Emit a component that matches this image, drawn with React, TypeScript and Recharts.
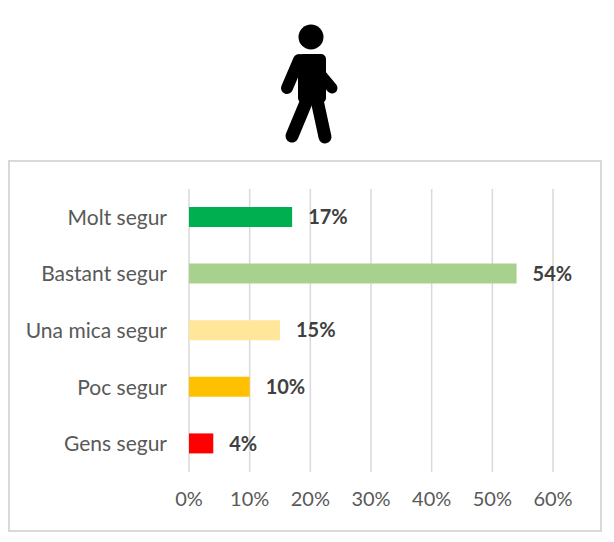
import { BarChart, Bar, XAxis, YAxis, CartesianGrid, Cell, LabelList } from "recharts";

const categories = ["Molt segur", "Bastant segur", "Una mica segur", "Poc segur", "Gens segur"];
const values = [17, 54, 15, 10, 4];
const colors = ["#00B050", "#A9D18E", "#FFE699", "#FFC000", "#FF0000"];
const xTicks = [0, 10, 20, 30, 40, 50, 60];

const data = categories.map((name, i) => ({ name, value: values[i] }));

const font = "Lato, 'Open Sans', sans-serif";

function Walker() {
  return (
    <svg width={80} height={130} viewBox="0 0 80 130" style={{ position: "absolute", left: 271, top: 18 }}>
      <circle cx={40} cy={19} r={12.5} fill="#000" />
      <g stroke="#000" strokeLinecap="round" strokeLinejoin="round" fill="none">
        <path d="M32 41 L50 41 L50 80 L32 80 Z" fill="#000" strokeWidth={10} />
        <path d="M28 42 L16 70" strokeWidth={12} />
        <path d="M51 58 L61 70" strokeWidth={11} />
        <path d="M36 82 L21 118" strokeWidth={13} />
        <path d="M46 82 L54 119" strokeWidth={13} />
      </g>
    </svg>
  );
}

export default function App() {
  return (
    <div style={{ position: "relative", width: 614, height: 542, margin: -8, background: "#fff", fontFamily: font }}>
      <Walker />
      <div
        style={{
          position: "absolute",
          left: 8,
          top: 160,
          width: 590,
          height: 368,
          border: "2px solid #d9d9d9",
        }}
      >
        <BarChart
          width={590}
          height={368}
          data={data}
          layout="vertical"
          margin={{ top: 27, right: 47, bottom: 0, left: 0 }}
        >
          <CartesianGrid horizontal={false} stroke="#d9d9d9" strokeWidth={1.5} />
          <XAxis
            type="number"
            domain={[0, 60]}
            ticks={xTicks}
            tickFormatter={(v) => `${v}%`}
            axisLine={false}
            tickLine={false}
            tickSize={0}
            tickMargin={20}
            height={58}
            tick={{ fill: "#595959", fontSize: 20, fontFamily: font }}
          />
          <YAxis
            type="category"
            dataKey="name"
            width={179}
            axisLine={false}
            tickLine={false}
            tickSize={0}
            tickMargin={22}
            tick={{ fill: "#595959", fontSize: 21, fontFamily: font }}
          />
          <Bar dataKey="value" barSize={20} isAnimationActive={false}>
            {data.map((d, i) => (
              <Cell key={d.name} fill={colors[i]} />
            ))}
            <LabelList
              dataKey="value"
              position="right"
              offset={16}
              formatter={(v) => `${v}%`}
              style={{ fill: "#404040", fontSize: 20, fontWeight: 700, fontFamily: font }}
            />
          </Bar>
        </BarChart>
      </div>
    </div>
  );
}
